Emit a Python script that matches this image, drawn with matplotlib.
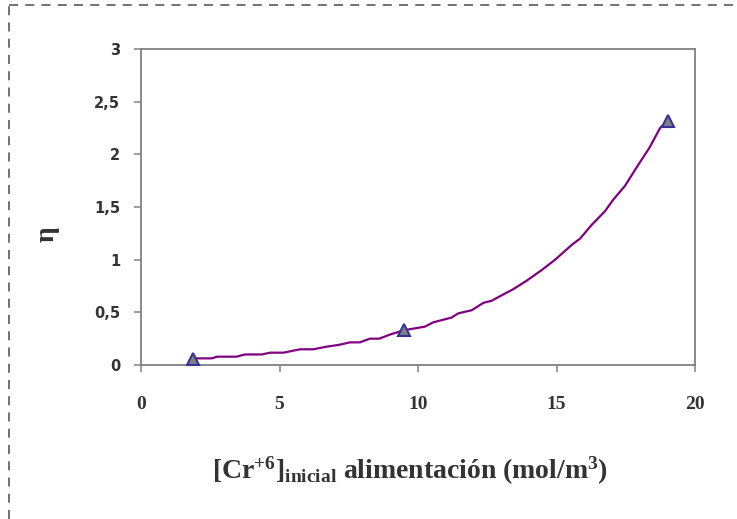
import matplotlib
matplotlib.use("Agg")
import matplotlib.pyplot as plt
from matplotlib.lines import Line2D

plt.rcParams['mathtext.default'] = 'regular'

# Fitted curve of eta vs. initial Cr(VI) feed concentration
curve_x = [1.84, 2.55, 2.75, 3.45, 3.75, 4.36, 4.66, 5.14, 5.74, 6.22, 6.70, 7.12,
           7.55, 7.90, 8.26, 8.60, 9.00, 9.49, 10.25, 10.55, 11.21, 11.45, 11.94,
           12.36, 12.66, 13.08, 13.44, 13.92, 14.46, 14.95, 15.55, 15.85, 16.27,
           16.75, 17.05, 17.47, 17.95, 18.35, 18.74, 19.02]
curve_y = [0.063, 0.063, 0.079, 0.079, 0.10, 0.10, 0.117, 0.117, 0.149, 0.149, 0.174,
           0.19, 0.215, 0.215, 0.25, 0.25, 0.29, 0.33, 0.364, 0.405, 0.45, 0.49, 0.52,
           0.59, 0.61, 0.67, 0.72, 0.80, 0.90, 1.00, 1.14, 1.20, 1.33, 1.46, 1.57,
           1.70, 1.90, 2.06, 2.25, 2.32]

# Measured points
meas_x = [1.86, 9.49, 19.03]
meas_y = [0.06, 0.33, 2.32]

x_ticks = [0, 5, 10, 15, 20]
x_ticklabels = ['0', '5', '10', '15', '20']
y_ticks = [0, 0.5, 1, 1.5, 2, 2.5, 3]
y_ticklabels = ['0', '0,5', '1', '1,5', '2', '2,5', '3']

W, H = 737, 519
fig = plt.figure(figsize=(W / 100, H / 100), dpi=100)
ax = fig.add_axes([141 / W, 1 - 365 / H, (695 - 141) / W, (365 - 49) / H])

ax.plot(curve_x, curve_y, color='#800080', lw=1.6, zorder=2)
ax.plot(meas_x, meas_y, linestyle='none', marker='^', markersize=8.5,
        markerfacecolor='#808080', markeredgecolor='#333399',
        markeredgewidth=1.5, zorder=3, clip_on=False)

ax.set_xlim(0, 20)
ax.set_ylim(0, 3)
ax.set_xticks(x_ticks)
ax.set_xticklabels(x_ticklabels, family='Liberation Serif', fontweight='bold',
                   fontsize=14, color='#333333')
ax.set_yticks(y_ticks)
ax.set_yticklabels(y_ticklabels, family='DejaVu Sans', fontweight='bold',
                   fontsize=10.5, color='#333333')

for s in ax.spines.values():
    s.set_color('#808080')
    s.set_linewidth(1.3)
ax.tick_params(axis='x', direction='out', length=5, width=1.1, color='#808080', pad=17)
ax.tick_params(axis='y', direction='out', length=5, width=1.1, color='#808080', pad=10)

fig.text(410 / W, 1 - 479 / H,
         r'[Cr$^{+6}$]$_{inicial}$ alimentación (mol/m$^{3}$)',
         ha='center', va='baseline', family='Liberation Serif', fontweight='bold',
         fontsize=20, color='#333333')
fig.text(47 / W, 1 - 234 / H, 'η', rotation=90, ha='center', va='center',
         family='Liberation Serif', fontweight='bold', fontsize=20, color='#333333')

# Dashed frame around the figure
dash = dict(color='#666666', lw=1.3, linestyle=(0, (5, 4)))
fig.add_artist(Line2D([9 / W, 1.0], [1 - 5 / H, 1 - 5 / H], transform=fig.transFigure, **dash))
fig.add_artist(Line2D([9 / W, 9 / W], [0.0, 1 - 5 / H], transform=fig.transFigure, **dash))

fig.savefig('out.png', dpi=100)
